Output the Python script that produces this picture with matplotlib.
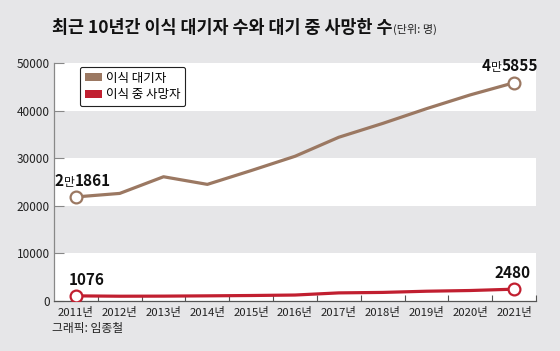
import matplotlib
matplotlib.use("Agg")
import matplotlib.pyplot as plt
from matplotlib.offsetbox import TextArea, HPacker, AnnotationBbox
from matplotlib.patches import Patch

plt.rcParams['font.family'] = ['Noto Sans CJK KR', 'DejaVu Sans']

years = ['2011년', '2012년', '2013년', '2014년', '2015년', '2016년',
         '2017년', '2018년', '2019년', '2020년', '2021년']
waiting = [21861, 22600, 26100, 24500, 27400, 30400, 34400, 37300, 40400, 43300, 45855]
deaths = [1076, 1000, 1020, 1080, 1150, 1250, 1700, 1800, 2050, 2200, 2480]
yticks = [0, 10000, 20000, 30000, 40000, 50000]

bg = '#e6e6e8'
brown = '#9b7862'
red = '#c11f30'

fig = plt.figure(figsize=(5.6, 3.51), dpi=100, facecolor=bg)
ax = fig.add_axes([0.0964, 0.1425, 0.8607, 0.678])
ax.set_facecolor(bg)

for lo in (0, 20000, 40000):
    ax.axhspan(lo, lo + 10000, color='white', zorder=0, lw=0)

x = list(range(len(years)))
ax.plot(x, waiting, color=brown, lw=2.3, zorder=3, solid_capstyle='round')
ax.plot(x, deaths, color=red, lw=2.3, zorder=3, solid_capstyle='round')
for s, c in ((waiting, brown), (deaths, red)):
    ax.plot([x[0], x[-1]], [s[0], s[-1]], 'o', ms=8.5, mfc='white', mec=c, mew=1.6, zorder=4)

ax.set_xlim(-0.5, len(years) - 0.5)
ax.set_ylim(0, 50000)

ax.set_yticks(yticks)
ax.set_yticklabels([str(v) for v in yticks], fontsize=8.5, color='#222222')
ax.tick_params(axis='y', direction='in', length=7, width=0.8, color='#888888', pad=3)

ax.set_xticks([i + 0.5 for i in range(len(years))])
ax.set_xticklabels([])
ax.set_xticks(x, minor=True)
ax.set_xticklabels(years, minor=True, fontsize=8.2, color='#222222')
ax.tick_params(axis='x', which='major', direction='in', length=4, width=0.8, color='#555555')
ax.tick_params(axis='x', which='minor', length=0, pad=4)

for sp in ('top', 'right'):
    ax.spines[sp].set_visible(False)
ax.spines['left'].set_color('#888888')
ax.spines['bottom'].set_color('#555555')
ax.spines['left'].set_linewidth(0.9)
ax.spines['bottom'].set_linewidth(0.9)

def label(parts, xy, offset):
    areas = []
    for txt, size, weight in parts:
        areas.append(TextArea(txt, textprops=dict(fontsize=size, fontweight=weight, color='#111111')))
    box = HPacker(children=areas, align='baseline', pad=0, sep=0)
    ab = AnnotationBbox(box, xy, xybox=offset, boxcoords='offset points', frameon=False,
                        box_alignment=(0.5, 0.0), zorder=5)
    ax.add_artist(ab)

label([('2', 11, 'bold'), ('만', 8.5, 'medium'), ('1861', 11, 'bold')], (0, waiting[0]), (5, 6))
label([('4', 11, 'bold'), ('만', 8.5, 'medium'), ('5855', 11, 'bold')], (10, waiting[-1]), (-3, 6))
label([('1076', 11, 'bold')], (0, deaths[0]), (8, 6))
label([('2480', 11, 'bold')], (10, deaths[-1]), (-1, 6))

handles = [Patch(facecolor=brown, edgecolor='none'), Patch(facecolor=red, edgecolor='none')]
leg = ax.legend(handles, ['이식 대기자', '이식 중 사망자'], loc='upper left',
                bbox_to_anchor=(0.053, 0.985), fontsize=9, frameon=True, fancybox=True,
                edgecolor='#222222', facecolor='white', framealpha=1,
                handlelength=1.4, handleheight=0.6, handletextpad=0.3,
                borderpad=0.4, labelspacing=0.3, borderaxespad=0)
leg.get_frame().set_linewidth(0.8)
leg.set_zorder(6)

fig.text(0.092, 0.905, '최근 10년간 이식 대기자 수와 대기 중 사망한 수', fontsize=12.5,
         fontweight='bold', color='#111111', va='baseline')
fig.text(0.702, 0.905, '(단위: 명)', fontsize=8, color='#222222', va='baseline')
fig.text(0.093, 0.055, '그래픽: 임종철', fontsize=8.5, color='#222222', va='baseline')

fig.savefig('out.png', dpi=100, facecolor=bg)
